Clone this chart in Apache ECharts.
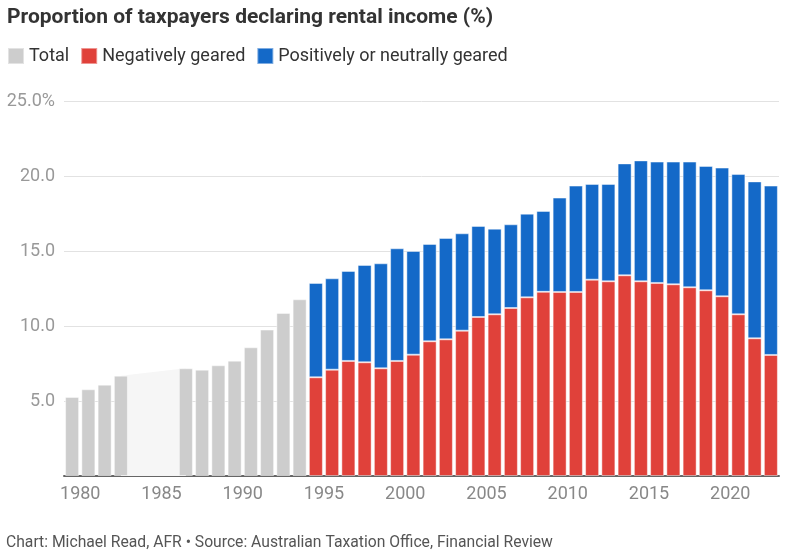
<!DOCTYPE html>
<html>
<head>
<meta charset="utf-8">
<script src="https://cdn.jsdelivr.net/npm/echarts@6/dist/echarts.min.js"></script>
<style>
  html, body { margin: 0; padding: 0; background: #fff; }
  #main { width: 800px; height: 559px; }
</style>
</head>
<body>
<div id="main"></div>
<script>
// financial years, keyed by starting year (1979 = 1979-80)
var years = [];
for (var y = 1979; y <= 2022; y++) years.push(String(y));

// total only (before the split was published); null = no data
var totalOnly = [5.27, 5.78, 6.09, 6.69, null, null, null, 7.18, 7.09, 7.38, 7.69, 8.58, 9.76, 10.87, 11.78];

// from 1994-95 on
var negGeared = [6.58, 7.09, 7.67, 7.58, 7.18, 7.67, 8.09, 8.98, 9.11, 9.69,
  10.6, 10.78, 11.2, 11.91, 12.28, 12.27, 12.27, 13.09, 12.98, 13.38,
  12.98, 12.87, 12.78, 12.58, 12.38, 11.98, 10.78, 9.18, 8.07];
var posGeared = [6.29, 6.09, 6.0, 6.49, 7.0, 7.51, 6.91, 6.49, 6.76, 6.49,
  6.07, 5.71, 5.58, 5.58, 5.39, 6.29, 7.09, 6.38, 6.49, 7.46,
  8.06, 8.09, 8.18, 8.38, 8.29, 8.58, 9.35, 10.46, 11.29];

var xTicks = [1980, 1985, 1990, 1995, 2000, 2005, 2010, 2015, 2020];
var yTicks = [0, 5, 10, 15, 20, 25];

var splitStart = totalOnly.length; // index in years where the split starts

function col(arr, offset) {
  return years.map(function (yr, i) {
    var v = arr[i - offset];
    return (v === undefined || v === null) ? '-' : v;
  });
}

// shaded gap where totals are missing: just the two bars either side of it
var gapData = years.map(function () { return '-'; });
for (var i = 1; i < totalOnly.length - 1; i++) {
  if (totalOnly[i] != null && (totalOnly[i + 1] == null || totalOnly[i - 1] == null)) {
    gapData[i] = totalOnly[i];
  }
}

var chart = echarts.init(document.getElementById('main'));
var font = 'Roboto, "Noto Sans", sans-serif';
var barBorder = 'rgba(255,255,255,0.45)';

chart.setOption({
  animation: false,
  textStyle: { fontFamily: font },
  title: [{
    text: 'Proportion of taxpayers declaring rental income (%)',
    left: 2, top: 2,
    textStyle: { fontSize: 21, fontWeight: 'bold', color: '#333', fontFamily: font }
  }, {
    text: 'Chart: Michael Read, AFR \u2022 Source: Australian Taxation Office, Financial Review',
    left: 1, top: 530,
    textStyle: { fontSize: 15.7, fontWeight: 'normal', color: '#555', fontFamily: font }
  }],
  legend: {
    data: ['Total', 'Negatively geared', 'Positively or neutrally geared'],
    left: 2, top: 42,
    icon: 'rect',
    itemWidth: 16, itemHeight: 16, itemGap: 11,
    textStyle: { fontSize: 18, color: '#333' },
    selectedMode: false
  },
  grid: { left: 64, right: 21, top: 101, bottom: 83 },
  xAxis: [{
    type: 'category',
    data: years,
    axisLine: { lineStyle: { color: '#666', width: 2 } },
    axisTick: { show: false },
    axisLabel: { show: false },
    splitLine: { show: false }
  }, {
    // label-only axis: year ticks fall between the financial-year bars
    type: 'value',
    position: 'bottom',
    min: Number(years[0]), max: Number(years[years.length - 1]) + 1, interval: 1,
    axisLine: { show: false },
    axisTick: { show: false },
    splitLine: { show: false },
    axisLabel: {
      color: '#888', fontSize: 18, margin: 9,
      formatter: function (v) { return xTicks.indexOf(v) >= 0 ? String(v) : ''; }
    }
  }],
  yAxis: {
    type: 'value',
    min: yTicks[0], max: yTicks[yTicks.length - 1], interval: 5,
    axisLine: { show: false },
    axisTick: { show: false },
    splitLine: { lineStyle: { color: '#e2e2e2', width: 1 } },
    axisLabel: {
      color: '#999', fontSize: 18, margin: 9,
      formatter: function (v) {
        if (v === 0) return '';
        return v === 25 ? v.toFixed(1) + '%' : v.toFixed(1);
      }
    }
  },
  series: [{
    name: 'gap',
    type: 'line',
    data: gapData,
    connectNulls: true,
    symbol: 'none',
    lineStyle: { width: 0 },
    areaStyle: { color: '#f6f6f6', opacity: 1 },
    z: 1, silent: true
  }, {
    name: 'Total',
    type: 'bar', stack: 'all',
    data: col(totalOnly, 0),
    barWidth: 14,
    itemStyle: { color: '#cdcdcd', borderColor: barBorder, borderWidth: 1 },
    z: 3
  }, {
    name: 'Negatively geared',
    type: 'bar', stack: 'all',
    data: col(negGeared, splitStart),
    barWidth: 14,
    itemStyle: { color: '#e0413a', borderColor: barBorder, borderWidth: 1 },
    z: 3
  }, {
    name: 'Positively or neutrally geared',
    type: 'bar', stack: 'all',
    data: col(posGeared, splitStart),
    barWidth: 14,
    itemStyle: { color: '#1469c8', borderColor: barBorder, borderWidth: 1 },
    z: 3
  }]
});
</script>
</body>
</html>
